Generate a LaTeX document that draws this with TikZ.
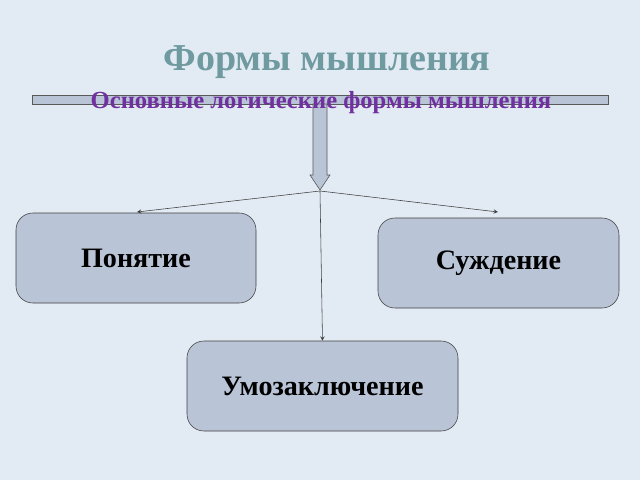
\documentclass[tikz,border=0pt]{standalone}
\usepackage{fontspec}
\setmainfont{Liberation Serif}
\begin{document}
\begin{tikzpicture}
[x=0.025cm,y=-0.025cm,
  boxdecorate/.style={shape=rectangle,rounded corners=12pt,draw=black!75,fill=boxfill,
    font=\bfseries\fontsize{20}{24}\selectfont},%
  linedecorate/.style={-stealth,draw=black!75,thin}]
\definecolor{bgfill}{HTML}{E2EAF3}
\definecolor{boxfill}{HTML}{B9C4D6}
\definecolor{titlecol}{HTML}{6E9AA0}
\definecolor{subcol}{HTML}{7030A0}
\fill[bgfill] (0,0) rectangle (640,480);
\useasboundingbox (0,0) rectangle (640,480);
% title
\node (title) at (327,62) [text=titlecol,font=\bfseries\fontsize{27}{31}\selectfont] {Формы мышления};
% bar and block arrow
\draw[draw=black!65,fill=boxfill] (32,95) rectangle (608,104);
\draw[draw=black!65,fill=boxfill] (313,104) -- (313,175) -- (310,175) -- (320,190)
  -- (330,175) -- (327,175) -- (327,104) -- cycle;
\coordinate (tip) at (320,191);
\node (sub) at (321,103) [text=subcol,font=\bfseries\fontsize{17.5}{20}\selectfont] {Основные логические формы мышления};
% boxes
\node (concept) at (136,258) [boxdecorate,minimum width=240*0.025cm,minimum height=90*0.025cm] {Понятие};
\node (judgement) at (498.5,263) [boxdecorate,minimum width=241*0.025cm,minimum height=90*0.025cm] {Суждение};
\node (inference) at (322.5,386) [boxdecorate,minimum width=271*0.025cm,minimum height=90*0.025cm] {Умозаключение};
% edges
\path
(tip) edge[linedecorate] (137,212)
(tip) edge[linedecorate] (498,212)
(tip) edge[linedecorate] (inference.north);
\end{tikzpicture}
\end{document}
